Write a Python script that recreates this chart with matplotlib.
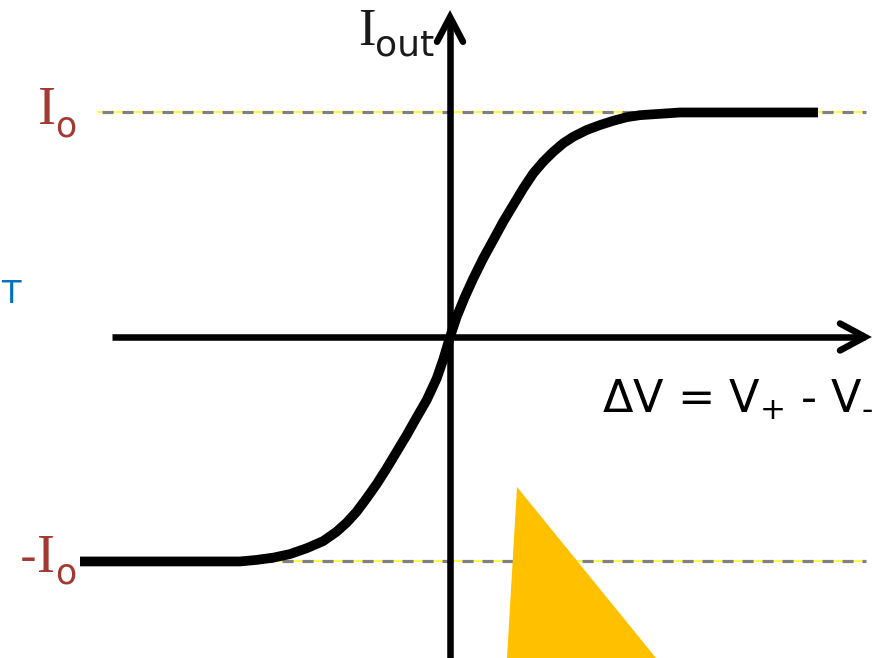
import matplotlib
matplotlib.use("Agg")
import matplotlib.pyplot as plt
from matplotlib.patches import Polygon

plt.rcParams['lines.scale_dashes'] = False

# ---- data (ΔV in arbitrary units, Iout normalised to Io = 1) ----
dv = [-3.70, -2.10, -1.933, -1.767, -1.600, -1.433, -1.267, -1.133, -1.033,
      -0.933, -0.833, -0.733, -0.633, -0.533, -0.433, -0.333, -0.233, -0.133,
      -0.067, 0.000, 0.067, 0.150, 0.233, 0.333, 0.433, 0.533, 0.633, 0.733,
      0.833, 0.933, 1.033, 1.133, 1.233, 1.367, 1.500, 1.633, 1.767, 1.900,
      2.067, 2.300, 3.68]
iout = [-1.000, -1.000, -0.993, -0.983, -0.967, -0.941, -0.909, -0.867, -0.827,
        -0.778, -0.718, -0.655, -0.585, -0.511, -0.437, -0.358, -0.281, -0.185,
        -0.100, 0.000, 0.090, 0.180, 0.261, 0.351, 0.432, 0.514, 0.588, 0.662,
        0.729, 0.781, 0.825, 0.863, 0.892, 0.922, 0.944, 0.963, 0.979, 0.988,
        0.993, 1.000, 1.000]
io_levels = [1.0, -1.0]
x_axis_range = [-3.38, 4.15]
y_axis_range = [-1.43, 1.425]
triangle_x = [0.67, 0.57, 2.06]
triangle_y = [-0.668, -1.43, -1.43]

fig = plt.figure(figsize=(8.88, 6.58), dpi=100)
ax = fig.add_axes([0, 0, 1, 1])
ax.set_xlim(-4.50, 4.38)
ax.set_ylim(-1.430, 1.501)
ax.axis('off')

red = '#A23A33'

# dashed reference lines (yellow line under grey dashes)
for lvl in io_levels:
    ax.plot([-3.53, 4.16], [lvl, lvl], color='#FFFF00', lw=1.1, zorder=1,
            solid_capstyle='butt')
    ax.plot([-3.48, 4.16], [lvl, lvl], color='#808080', lw=2.3,
            ls=(0, (8.0, 6.4)), zorder=2, dash_capstyle='butt')

# yellow triangle
ax.add_patch(Polygon(list(zip(triangle_x, triangle_y)), closed=True,
                     facecolor='#FFC000', edgecolor='none', zorder=3))

# axes with chevron arrowheads
alw = 4.7
ax.plot(x_axis_range, [0, 0], color='black', lw=alw, zorder=4,
        solid_capstyle='butt')
ax.plot([0, 0], y_axis_range, color='black', lw=alw, zorder=4,
        solid_capstyle='butt')
xe = x_axis_range[1]
ax.plot([xe - 0.25, xe, xe - 0.25], [0.060, 0, -0.060], color='black', lw=alw,
        zorder=4, solid_capstyle='round', solid_joinstyle='miter')
ye = y_axis_range[1]
ax.plot([-0.13, 0, 0.13], [ye - 0.11, ye, ye - 0.11], color='black', lw=alw,
        zorder=4, solid_capstyle='round', solid_joinstyle='miter')

# transfer curve
ax.plot(dv, iout, color='black', lw=7.0, zorder=5, solid_capstyle='butt',
        solid_joinstyle='round')

# labels
ax.text(-4.12, 0.949, "I", family='Liberation Serif', fontsize=39, color=red,
        ha='left', va='baseline')
ax.text(-3.95, 0.895, "o", family='DejaVu Sans', fontsize=25, color=red,
        ha='left', va='baseline')
ax.text(-4.30, -1.047, "-", family='DejaVu Sans', fontsize=34, color=red,
        ha='left', va='baseline')
ax.text(-4.13, -1.047, "I", family='Liberation Serif', fontsize=39, color=red,
        ha='left', va='baseline')
ax.text(-3.95, -1.096, "o", family='DejaVu Sans', fontsize=25, color=red,
        ha='left', va='baseline')

ax.text(-0.92, 1.301, "I", family='Liberation Serif', fontsize=38,
        color='#1a1a1a', ha='left', va='baseline')
ax.text(-0.75, 1.256, "out", family='DejaVu Sans', fontsize=26,
        color='#1a1a1a', ha='left', va='baseline')

ax.text(1.52, -0.338, r"$\Delta$V = V$_{+}$ - V$_{\text{-}}$",
        family='DejaVu Sans', fontsize=32, color='black', ha='left',
        va='baseline')

ax.text(-4.49, 0.151, "T", family='DejaVu Sans', fontsize=23, color='#0070C0',
        ha='left', va='baseline')

fig.savefig('out.png', dpi=100)
